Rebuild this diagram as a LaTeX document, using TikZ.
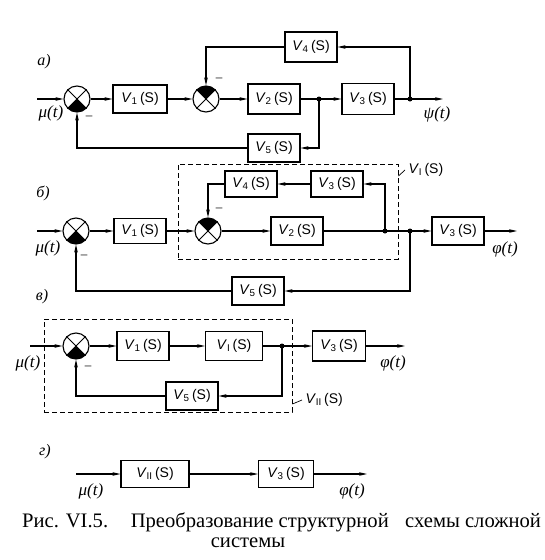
\documentclass[tikz,border=0pt]{standalone}
\usepackage{fontspec}
\setmainfont{Liberation Serif}
\setsansfont{Liberation Sans}
\usetikzlibrary{arrows.meta,positioning,calc}

\tikzset{
  blk/.style={draw, line width=1.1pt, minimum width=52pt, minimum height=28pt,
    inner sep=0pt, font=\fontsize{14}{16}\selectfont\sffamily},
  sumcirc/.style={draw, circle, line width=1.1pt, minimum size=26pt, inner sep=0pt},
  sig/.style={line width=1.1pt},
  arr/.style={sig, -{Stealth[length=8pt,width=3.6pt]}},
  jdot/.style={circle, fill, inner sep=0pt, minimum size=5pt},
  lbl/.style={font=\fontsize{17}{19}\selectfont\itshape, inner sep=1pt},
  minus/.style={font=\fontsize{13}{15}\selectfont, inner sep=0pt},
  frame/.style={draw, line width=0.9pt, dash pattern=on 5pt off 3pt, inner sep=0pt},
  part/.style={font=\fontsize{16}{18}\selectfont\itshape}
}
% transfer function label: index
\newcommand{\tf}[1]{\textit{V}\textsubscript{#1}\,(S)}
% summing junction: name, position, direction of the dark quadrant
\newcommand{\summer}[3]{%
  \fill #2 -- ++({#3-45}:13) arc[start angle={#3-45}, end angle={#3+45}, radius=13] -- cycle;
  \node[sumcirc] (#1) at #2 {};
  \draw[line width=0.8pt] (#1.45) -- (#1.225) (#1.135) -- (#1.315);
}

\begin{document}
\begin{tikzpicture}[x=1pt, y=1pt]
        \useasboundingbox (0,0) rectangle (544,-560);

        % --- a)
        \node[part] (pa) at (44,-62) {а)};
        \coordinate (ina) at (37,-99);
        \summer{S1a}{(77,-99)}{270}
        \summer{S2a}{(206,-99)}{90}
        \node[blk, minimum width=54pt] (V1a) at (140,-99) {\tf{1}};
        \node[blk, minimum height=30pt] (V2a) at (274,-99) {\tf{2}};
        \node[jdot] (J1a) at (319,-99) {};
        \node[blk, minimum height=31pt] (V3a) at (368,-99) {\tf{3}};
        \node[jdot] (J2a) at (410,-99) {};
        \coordinate (outa) at (443,-99);
        \node[blk, minimum height=30pt] (V4a) at (311,-47) {\tf{4}};
        \node[blk] (V5a) at (274,-148) {\tf{5}};
        \draw[arr] (ina) -- (S1a);
        \draw[arr] (S1a) -- (V1a);
        \draw[arr] (V1a) -- (S2a);
        \draw[arr] (S2a) -- (V2a);
        \draw[sig] (V2a) -- (J1a.center);
        \draw[arr] (J1a.center) -- (V3a);
        \draw[sig] (V3a) -- (J2a.center);
        \draw[arr] (J2a.center) -- (outa);
        \draw[arr] (J2a.center) |- (V4a);
        \draw[arr] (V4a) -| (S2a);
        \draw[arr] (J1a.center) |- (V5a);
        \draw[arr] (V5a) -| (S1a);
        \node[lbl] (mua) at (51,-113) {μ(t)};
        \node[lbl] (psia) at (437,-114) {ψ(t)};
        \node[minus] (m1a) at (89,-118) {–};
        \node[minus] (m2a) at (219,-80) {–};

        % --- b)
        \node[part] (pb) at (43,-193) {б)};
        \node[frame, minimum width=220pt, minimum height=95pt] (frI) at (288,-211.5) {};
        \coordinate (inb) at (37,-231);
        \summer{S1b}{(76,-231)}{270}
        \summer{S2b}{(208,-231)}{90}
        \node[blk, minimum height=25pt] (V1b) at (140,-231) {\tf{1}};
        \node[blk] (V2b) at (297,-231) {\tf{2}};
        \node[jdot] (Jin) at (385,-231) {};
        \node[jdot] (Jout) at (410,-231) {};
        \node[blk] (V3b) at (458,-231) {\tf{3}};
        \coordinate (outb) at (517,-231);
        \node[blk, minimum height=26pt] (V3pb) at (337,-184) {\tf{3}};
        \node[blk, minimum height=26pt] (V4b) at (251,-184) {\tf{4}};
        \node[blk] (V5b) at (258,-291) {\tf{5}};
        \draw[arr] (inb) -- (S1b);
        \draw[arr] (S1b) -- (V1b);
        \draw[arr] (V1b) -- (S2b);
        \draw[arr] (S2b) -- (V2b);
        \draw[sig] (V2b) -- (Jout.center);
        \draw[arr] (Jout.center) -- (V3b);
        \draw[arr] (V3b) -- (outb);
        \draw[arr] (Jin.center) |- (V3pb);
        \draw[arr] (V3pb) -- (V4b);
        \draw[arr] (V4b) -| (S2b);
        \draw[arr] (Jout.center) |- (V5b);
        \draw[arr] (V5b) -| (S1b);
        \node[lbl] (mub) at (48,-248) {μ(t)};
        \node[lbl] (phib) at (505,-249) {φ(t)};
        \node[minus] (m1b) at (84,-257) {–};
        \node[minus] (m2b) at (219,-210) {–};
        \node[anchor=west, font=\fontsize{14}{16}\selectfont\sffamily] (lI) at (405,-170) {\tf{I}};
        \draw[line width=0.7pt] (lI.west) -- (frI.east |- 0,-176);

        % --- v)
        \node[part] (pc) at (42,-297) {в)};
        \node[frame, minimum width=248pt, minimum height=93pt] (frII) at (168,-365.5) {};
        \coordinate (inc) at (30,-346);
        \summer{S1c}{(76,-346)}{270}
        \node[blk, minimum height=29pt] (V1c) at (143,-346) {\tf{1}};
        \node[blk, minimum width=57pt, minimum height=29pt] (VIc) at (234,-346) {\tf{I}};
        \node[jdot] (Jc) at (282,-346) {};
        \node[blk, minimum width=53pt, minimum height=30pt] (V3c) at (339,-346) {\tf{3}};
        \coordinate (outc) at (405,-346);
        \node[blk] (V5c) at (192,-396) {\tf{5}};
        \draw[arr] (inc) -- (S1c);
        \draw[arr] (S1c) -- (V1c);
        \draw[arr] (V1c) -- (VIc);
        \draw[sig] (VIc) -- (Jc.center);
        \draw[arr] (Jc.center) -- (V3c);
        \draw[arr] (V3c) -- (outc);
        \draw[arr] (Jc.center) |- (V5c);
        \draw[arr] (V5c) -| (S1c);
        \node[lbl] (muc) at (28,-363) {μ(t)};
        \node[lbl] (phic) at (393,-363) {φ(t)};
        \node[minus] (m1c) at (88,-368) {–};
        \node[anchor=west, font=\fontsize{14}{16}\selectfont\sffamily] (lII) at (302,-400) {\tf{II}};
        \draw[line width=0.7pt] (lII.west) -- (frII.east |- 0,-404);

        % --- g)
        \node[part] (pd) at (45,-452) {г)};
        \coordinate (ind) at (76,-474);
        \node[blk, minimum width=68pt, minimum height=27pt] (VIId) at (155,-474) {\tf{II}};
        \node[blk, minimum width=55pt, minimum height=27pt] (V3d) at (286,-474) {\tf{3}};
        \coordinate (outd) at (367,-474);
        \draw[arr] (ind) -- (VIId);
        \draw[arr] (VIId) -- (V3d);
        \draw[arr] (V3d) -- (outd);
        \node[lbl] (mud) at (91,-491) {μ(t)};
        \node[lbl] (phid) at (352,-491) {φ(t)};

        % caption
        \node[anchor=base west, inner sep=0pt, font=\fontsize{20.6}{22}\selectfont] (cap1)
          at (22,-527) {Рис. VI.5.\hspace{1.1em}Преобразование структурной\hspace{0.8em}схемы сложной};
        \node[anchor=base, inner sep=0pt, font=\fontsize{20.6}{22}\selectfont] (cap2)
          at (248,-547) {системы};
      \end{tikzpicture}
\end{document}
